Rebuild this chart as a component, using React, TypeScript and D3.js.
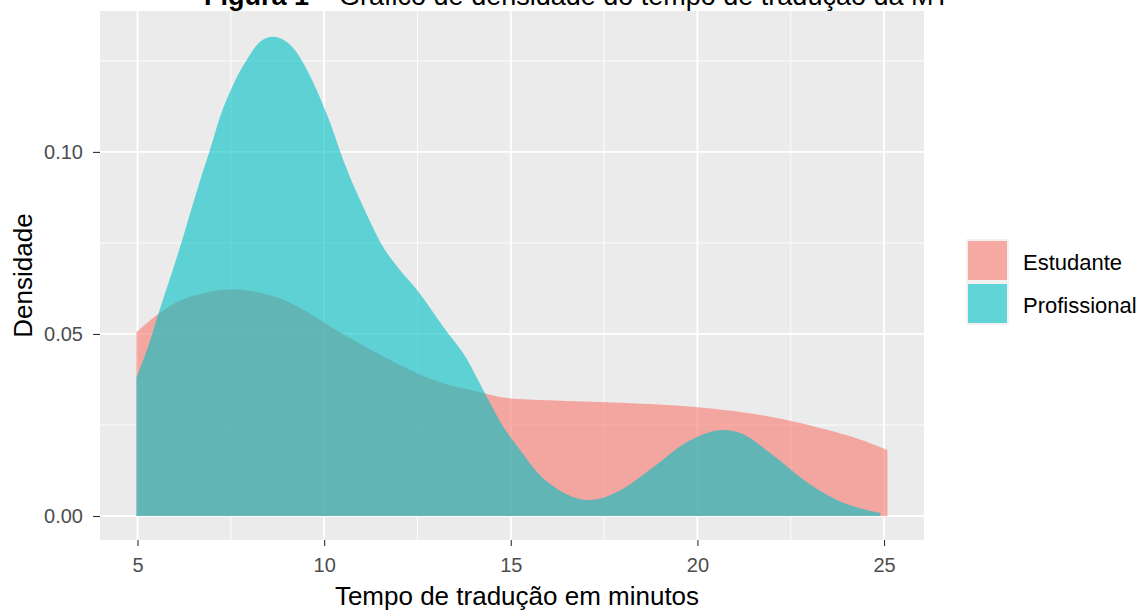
import React, { useEffect, useRef } from 'react';
import * as d3 from 'd3';

// density estimates
const estudanteX = [4.97, 5.6, 6.1, 6.68, 7.56, 8.2, 9.0, 9.36, 10.24, 11.15, 12.03, 12.92, 14.26, 14.9, 16.0, 17.4, 18.5, 19.86, 21.0, 22.3, 23.5, 24.3, 25.09];
const estudanteY = [0.0505, 0.0558, 0.0590, 0.0610, 0.0623, 0.0615, 0.0590, 0.0571, 0.0516, 0.0462, 0.0415, 0.0374, 0.0338, 0.0324, 0.0318, 0.0313, 0.0308, 0.0300, 0.0288, 0.0266, 0.0236, 0.0212, 0.0181];

const profissionalX = [4.97, 5.3, 5.55, 6.14, 6.68, 6.94, 7.21, 7.56, 7.93, 8.28, 8.63, 9.09, 9.36, 9.71, 10.16, 10.51, 11.05, 11.58, 12.03, 12.49, 13.19, 13.83, 14.26, 14.8, 15.25, 15.7, 16.3, 17.1, 17.94, 18.83, 19.72, 20.35, 20.7, 21.15, 21.95, 22.85, 23.74, 24.9];
const profissionalY = [0.038, 0.047, 0.0552, 0.0739, 0.0923, 0.1005, 0.1096, 0.1184, 0.1253, 0.1302, 0.1316, 0.1294, 0.1258, 0.119, 0.108, 0.0978, 0.0849, 0.0739, 0.0676, 0.0621, 0.052, 0.043, 0.0346, 0.0245, 0.0181, 0.0121, 0.0071, 0.0044, 0.0071, 0.0135, 0.0203, 0.0231, 0.0236, 0.0228, 0.0173, 0.0099, 0.0044, 0.0008];

const groups = ['Estudante', 'Profissional'];
const xTicks = [5, 10, 15, 20, 25];
const xMinor = [7.5, 12.5, 17.5, 22.5];
const yTicks = [0, 0.05, 0.1];
const yMinor = [0.025, 0.075, 0.125];

const W = 1148, H = 615;
const panelLeft = 100, panelRight = 924, panelTop = 11, panelBottom = 540;
const COLORS = ['#F8766D', '#00BFC4'];

export default function App() {
  const ref = useRef<SVGSVGElement | null>(null);

  useEffect(() => {
    const svg = d3.select(ref.current);
    svg.selectAll('*').remove();

    const x = d3.scaleLinear().domain([3.995, 26.07]).range([panelLeft, panelRight]);
    const y = d3.scaleLinear().domain([-0.00659, 0.1387]).range([panelBottom, panelTop]);

    // panel
    svg.append('rect')
      .attr('x', panelLeft).attr('y', panelTop)
      .attr('width', panelRight - panelLeft).attr('height', panelBottom - panelTop)
      .attr('fill', '#EBEBEB');

    const grid = svg.append('g').attr('stroke', '#fff');
    xMinor.forEach(v => grid.append('line')
      .attr('x1', x(v)).attr('x2', x(v)).attr('y1', panelTop).attr('y2', panelBottom)
      .attr('stroke-width', 0.9));
    yMinor.forEach(v => grid.append('line')
      .attr('y1', y(v)).attr('y2', y(v)).attr('x1', panelLeft).attr('x2', panelRight)
      .attr('stroke-width', 0.9));
    xTicks.forEach(v => grid.append('line')
      .attr('x1', x(v)).attr('x2', x(v)).attr('y1', panelTop).attr('y2', panelBottom)
      .attr('stroke-width', 1.8));
    yTicks.forEach(v => grid.append('line')
      .attr('y1', y(v)).attr('y2', y(v)).attr('x1', panelLeft).attr('x2', panelRight)
      .attr('stroke-width', 1.8));

    // densities
    const series = [
      { xs: estudanteX, ys: estudanteY },
      { xs: profissionalX, ys: profissionalY },
    ];
    const area = d3.area<[number, number]>()
      .x(d => x(d[0]))
      .y0(y(0))
      .y1(d => y(d[1]))
      .curve(d3.curveMonotoneX);

    series.forEach((s, i) => {
      const pts = s.xs.map((v, j) => [v, s.ys[j]] as [number, number]);
      svg.append('path')
        .attr('d', area(pts))
        .attr('fill', COLORS[i])
        .attr('fill-opacity', 0.6);
    });

    // axes
    const font = 'Liberation Sans, Arial, sans-serif';
    const xAxis = svg.append('g')
      .attr('transform', `translate(0,${panelBottom})`)
      .call(d3.axisBottom(x).tickValues(xTicks).tickSize(6).tickPadding(12).tickFormat(d3.format('d')));
    const yAxis = svg.append('g')
      .attr('transform', `translate(${panelLeft},0)`)
      .call(d3.axisLeft(y).tickValues(yTicks).tickSize(7).tickPadding(10).tickFormat(d3.format('.2f')));
    [xAxis, yAxis].forEach(g => {
      g.select('.domain').remove();
      g.selectAll('.tick line').attr('stroke', '#333').attr('stroke-width', 1.1);
      g.selectAll('.tick text')
        .attr('fill', '#4D4D4D')
        .style('font-family', font)
        .style('font-size', '20px');
    });

    // titles
    svg.append('text')
      .attr('x', (panelLeft + panelRight) / 2 + 5).attr('y', 605)
      .attr('text-anchor', 'middle')
      .style('font-family', font).style('font-size', '26px')
      .text('Tempo de tradução em minutos');

    svg.append('text')
      .attr('transform', `translate(32,${(panelTop + panelBottom) / 2}) rotate(-90)`)
      .attr('text-anchor', 'middle')
      .style('font-family', font).style('font-size', '26px')
      .text('Densidade');

    const title = svg.append('text')
      .attr('x', 577).attr('y', 5)
      .attr('text-anchor', 'middle')
      .style('font-family', font).style('font-size', '27px');
    title.append('tspan').attr('font-weight', 'bold').text('Figura 1');
    title.append('tspan').text(' – Gráfico de densidade do tempo de tradução da MT');

    // legend
    const keySize = 43;
    const legend = svg.append('g').attr('transform', 'translate(966,239)');
    groups.forEach((gname, i) => {
      const g = legend.append('g').attr('transform', `translate(0,${i * keySize})`);
      g.append('rect').attr('width', keySize).attr('height', keySize).attr('fill', '#F2F2F2');
      g.append('rect').attr('x', 2).attr('y', 2)
        .attr('width', keySize - 4).attr('height', keySize - 4)
        .attr('fill', COLORS[i]).attr('fill-opacity', 0.6);
      g.append('text')
        .attr('x', 57).attr('y', keySize / 2 + 9)
        .style('font-family', font).style('font-size', '22px')
        .attr('fill', '#000')
        .text(gname);
    });
  }, []);

  return (
    <svg
      ref={ref}
      width={W}
      height={H}
      style={{ position: 'absolute', left: 0, top: 0, background: '#fff' }}
    />
  );
}
